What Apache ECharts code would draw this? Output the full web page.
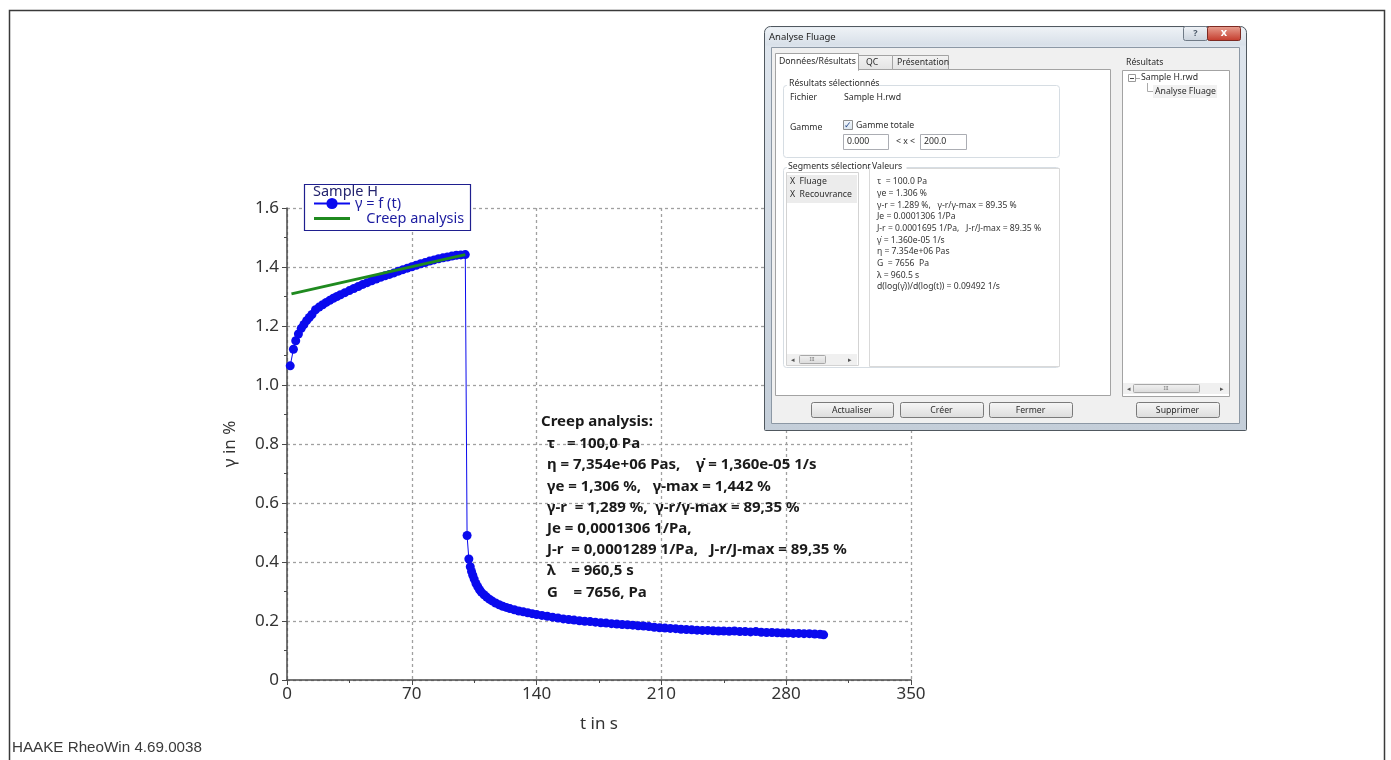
<!DOCTYPE html>
<html>
<head>
<meta charset="utf-8">
<script src="https://cdn.jsdelivr.net/npm/echarts@6/dist/echarts.min.js"></script>
<style>
  html, body { margin: 0; padding: 0; background: #ffffff; }
  #chart { width: 1391px; height: 760px; }
</style>
</head>
<body>
<div id="chart"></div>
<script>
// Creep phase: time (s) and shear strain (%)
const creepTime = [1.8, 3.6, 4.9, 6.4, 8.0, 9.5, 11, 12.5, 14, 16, 18, 20, 22, 24, 26, 28, 30, 32.5, 35, 37.5,
  40, 42.5, 45, 47.5, 50, 52.5, 55, 57.5, 60, 62.5, 65, 67.5, 70, 72.5, 75, 77.5, 80, 82.5, 85, 87.5,
  90, 92.5, 95, 97.5, 100];
const creepStrain = [1.065, 1.121, 1.150, 1.173, 1.192, 1.205, 1.218, 1.229, 1.239, 1.255, 1.264, 1.272, 1.280, 1.287, 1.294, 1.300, 1.306, 1.313, 1.320, 1.327,
  1.334, 1.341, 1.347, 1.353, 1.359, 1.365, 1.370, 1.375, 1.380, 1.386, 1.391, 1.396, 1.401, 1.406, 1.411, 1.415, 1.420, 1.424, 1.428, 1.431,
  1.434, 1.437, 1.440, 1.441, 1.442];

// Recovery phase: time (s) and shear strain (%)
const recoveryTime = [101.0, 102.0, 102.8, 103.5, 104.2, 105, 106, 107, 108, 109, 110.5, 112, 113.5, 115, 117,
  119, 121, 123, 125, 127.5, 130, 132.5, 135, 137.5, 140, 143, 146, 149, 152, 155, 158, 161, 164, 167, 170,
  173, 176, 179, 182, 185, 188, 191, 194, 197, 200, 203, 206, 209, 212, 215, 218, 221, 224, 227, 230,
  233, 236, 239, 242, 245, 248, 251, 254, 257, 260, 263, 266, 269, 272, 275, 278, 281, 284, 287, 290,
  293, 296, 299, 301];
const recoveryStrain = [0.490, 0.410, 0.384, 0.368, 0.355, 0.342, 0.327, 0.316, 0.306, 0.298, 0.289, 0.281, 0.274, 0.268, 0.261,
  0.255, 0.250, 0.246, 0.242, 0.238, 0.234, 0.231, 0.228, 0.225, 0.222, 0.219, 0.216, 0.213, 0.210, 0.207, 0.205, 0.203, 0.201, 0.199, 0.198,
  0.196, 0.194, 0.193, 0.191, 0.190, 0.188, 0.187, 0.186, 0.184, 0.183, 0.181, 0.179, 0.177, 0.176, 0.175, 0.174, 0.172, 0.171, 0.170, 0.169,
  0.168, 0.168, 0.167, 0.166, 0.166, 0.165, 0.166, 0.164, 0.164, 0.163, 0.164, 0.162, 0.161, 0.161, 0.160, 0.159, 0.159, 0.158, 0.158, 0.157,
  0.157, 0.156, 0.155, 0.153];

// Creep analysis fit line (γe = 1.306 %, γ̇ = 1.360e-05 1/s)
const fitTime = [2.5, 100];
const fitStrain = [1.309, 1.442];

// Axis ticks
const xTicks = [0, 70, 140, 210, 280, 350];
const yTicks = [0, 0.2, 0.4, 0.6, 0.8, 1.0, 1.2, 1.4, 1.6];

// Result annotation lines
const resultTitle = 'Creep analysis:';
const resultLines = [
  'τ   = 100,0 Pa',
  'η = 7,354e+06 Pas,    γ̇ = 1,360e-05 1/s',
  'γe = 1,306 %,   γ-max = 1,442 %',
  'γ-r  = 1,289 %,  γ-r/γ-max = 89,35 %',
  'Je = 0,0001306 1/Pa,',
  'J-r  = 0,0001289 1/Pa,   J-r/J-max = 89,35 %',
  'λ    = 960,5 s',
  'G    = 7656, Pa'
];

// Dialog value list
const dialogValues = [
  'τ  = 100.0 Pa',
  'γe = 1.306 %',
  'γ-r = 1.289 %,   γ-r/γ-max = 89.35 %',
  'Je = 0.0001306 1/Pa',
  'J-r = 0.0001695 1/Pa,   J-r/J-max = 89.35 %',
  'γ̇ = 1.360e-05 1/s',
  'η = 7.354e+06 Pas',
  'G  = 7656  Pa',
  'λ = 960.5 s',
  'd(log(γ̇))/d(log(t)) = 0.09492 1/s'
];
const dialogSegments = ['X  Fluage', 'X  Recouvrance'];
const dialogButtons = ['Actualiser', 'Créer', 'Fermer'];

const zip = (a, b) => a.map((v, i) => [v, b[i]]);
const measuredData = zip(creepTime, creepStrain).concat(zip(recoveryTime, recoveryStrain));
const fitData = zip(fitTime, fitStrain);

const chart = echarts.init(document.getElementById('chart'), null, { renderer: 'canvas' });

// --- helpers for the dialog drawing ---
const UI_FONT = '"Noto Sans", "DejaVu Sans", sans-serif';
function rect(x, y, w, h, fill, stroke, r, z) {
  return { type: 'rect', silent: true, z: z || 100,
    shape: { x: x, y: y, width: w, height: h, r: r || 0 },
    style: { fill: fill, stroke: stroke || null, lineWidth: 1 } };
}
function text(x, y, str, opts) {
  opts = opts || {};
  return { type: 'text', silent: true, z: opts.z || 110, x: x, y: y,
    style: { text: str, fill: opts.color || '#2b2b2b',
      font: (opts.weight || 'normal') + ' ' + (opts.size || 8.7) + 'px ' + (opts.family || UI_FONT),
      align: opts.align || 'left', verticalAlign: 'middle' } };
}
function line(x1, y1, x2, y2, stroke, z) {
  return { type: 'line', silent: true, z: z || 105,
    shape: { x1: x1, y1: y1, x2: x2, y2: y2 }, style: { stroke: stroke, lineWidth: 1 } };
}
function grad(c0, c1) {
  return new echarts.graphic.LinearGradient(0, 0, 0, 1, [{ offset: 0, color: c0 }, { offset: 1, color: c1 }]);
}
function button(x, y, w, label) {
  return [
    rect(x + 0.5, y + 0.5, w, 15, grad('#f7f7f7', '#dcdcdc'), '#7a7a7a', 2, 104),
    text(x + w / 2, y + 8.5, label, { align: 'center' })
  ];
}
function scrollbar(x, y, w, thumbX, thumbW) {
  return [
    rect(x, y, w, 11, '#f0f0f0', null, 0, 104),
    rect(thumbX + 0.5, y + 1.5, thumbW, 8, grad('#f2f2f2', '#dadada'), '#a8a8a8', 1, 105),
    text(thumbX + thumbW / 2, y + 5.5, 'III', { align: 'center', size: 5, color: '#777' }),
    text(x + 4, y + 5.5, '◂', { size: 7, color: '#555' }),
    text(x + w - 9, y + 5.5, '▸', { size: 7, color: '#555' })
  ];
}

const graphics = [];

// page frame and footer
graphics.push({ type: 'rect', silent: true, z: 1,
  shape: { x: 9.5, y: 10.5, width: 1375, height: 800 },
  style: { fill: null, stroke: '#3a3a3a', lineWidth: 1.5 } });
graphics.push(text(12, 748, 'HAAKE RheoWin 4.69.0038',
  { size: 15.2, color: '#3a3a3a', family: '"Liberation Sans", Arial, sans-serif', z: 5 }));

// legend frame with sample title (legend items drawn by the legend component on top)
graphics.push({ type: 'rect', silent: true, z: 3,
  shape: { x: 304.5, y: 184.5, width: 166, height: 46 },
  style: { fill: '#ffffff', stroke: '#1f1f8f', lineWidth: 1.2 } });
graphics.push(text(313, 192, 'Sample H', { size: 14.5, color: '#24246e', z: 12 }));

// result annotation
graphics.push(text(541, 422, resultTitle, { size: 15, weight: 'bold', color: '#1a1a1a', z: 6 }));
resultLines.forEach((s, i) => {
  graphics.push(text(547, 444 + i * 21.2, s, { size: 15, weight: 'bold', color: '#1a1a1a', z: 6 }));
});

// --- dialog window ---
graphics.push({ type: 'rect', silent: true, z: 100,
  shape: { x: 764.5, y: 26.5, width: 482, height: 404, r: [6, 6, 1, 1] },
  style: { fill: grad('#dfe6ee', '#c4ced9'), stroke: '#50585f', lineWidth: 1 } });
graphics.push({ type: 'rect', silent: true, z: 100,
  shape: { x: 765.5, y: 27.5, width: 480, height: 18, r: [5, 5, 0, 0] },
  style: { fill: grad('#eef2f6', '#d7dfe8'), stroke: null } });
graphics.push(text(769, 37, 'Analyse Fluage', { size: 9.5, color: '#1d1d1d' }));
graphics.push(rect(1183.5, 26.5, 24, 14, grad('#f1f4f8', '#c9d2dc'), '#6f7a86', 2, 102));
graphics.push(text(1195.5, 33.5, '?', { align: 'center', size: 9, weight: 'bold', color: '#4a5868' }));
graphics.push(rect(1207.5, 26.5, 33, 14, grad('#e9a293', '#c3392a'), '#7d2a22', 2, 102));
graphics.push(text(1224, 33, 'x', { align: 'center', size: 11, weight: 'bold', color: '#ffffff' }));

// client area
graphics.push(rect(771.5, 47.5, 468, 376, '#f0f0f0', '#8c98a5', 0, 101));

// tabs and tab page
graphics.push(rect(775.5, 69.5, 335, 326, '#ffffff', '#a3a3a3', 0, 102));
graphics.push(rect(858.5, 55.5, 34, 14, grad('#f3f3f3', '#e3e3e3'), '#a3a3a3', 0, 102));
graphics.push(rect(892.5, 55.5, 56, 14, grad('#f3f3f3', '#e3e3e3'), '#a3a3a3', 0, 102));
graphics.push(rect(775.5, 53.5, 83, 17, '#ffffff', '#a3a3a3', 0, 103));
graphics.push(rect(776, 69, 82, 2, '#ffffff', null, 0, 104));
graphics.push(text(779, 62, 'Données/Résultats'));
graphics.push(text(866, 63, 'QC'));
graphics.push(text(897, 63, 'Présentation'));

// "Résultats sélectionnés" group
graphics.push(rect(783.5, 85.5, 276, 72, null, '#d6dde3', 3, 103));
graphics.push(rect(787, 79, 86, 10, '#ffffff', null, 0, 104));
graphics.push(text(789, 84, 'Résultats sélectionnés'));
graphics.push(text(790, 98, 'Fichier'));
graphics.push(text(844, 98, 'Sample H.rwd'));
graphics.push(text(790, 128, 'Gamme'));
graphics.push(rect(843.5, 120.5, 9, 9, grad('#f4f8fc', '#d9e4ef'), '#8e8f8f', 0, 104));
graphics.push(text(844, 125.5, '✓', { size: 9, weight: 'bold', color: '#2a4d8c' }));
graphics.push(text(856, 126, 'Gamme totale'));
graphics.push(rect(843.5, 134.5, 45, 15, '#ffffff', '#abadb3', 0, 104));
graphics.push(text(847, 142, '0.000'));
graphics.push(text(896, 142, '< x <'));
graphics.push(rect(920.5, 134.5, 46, 15, '#ffffff', '#abadb3', 0, 104));
graphics.push(text(924, 142, '200.0'));

// "Segments sélectionnés" / "Valeurs" group
graphics.push(rect(783.5, 167.5, 276, 200, null, '#d6dde3', 3, 103));
graphics.push(rect(787, 162, 80, 10, '#ffffff', null, 0, 104));
graphics.push(text(788, 167, 'Segments sélectionné'));
graphics.push(rect(786.5, 172.5, 72, 193, '#ffffff', '#d3d3d3', 0, 104));
graphics.push(rect(787, 175, 70, 28, '#ececec', null, 0, 105));
dialogSegments.forEach((s, i) => graphics.push(text(790, 182 + i * 13, s)));
scrollbar(787, 354, 70, 799, 26).forEach(g => graphics.push(g));
graphics.push(rect(869.5, 168.5, 190, 198, '#ffffff', '#d9d9d9', 0, 104));
graphics.push(rect(870.5, 161, 36, 11, '#ffffff', null, 0, 111));
graphics.push(text(872, 167, 'Valeurs', { z: 112 }));
dialogValues.forEach((s, i) => graphics.push(text(877, 182 + i * 11.65, s, { size: 8.6, color: '#333' })));

// results tree
graphics.push(text(1126, 63, 'Résultats'));
graphics.push(rect(1122.5, 70.5, 107, 326, '#ffffff', '#a3a3a3', 0, 102));
graphics.push(rect(1128.5, 74.5, 7, 7, '#ffffff', '#9a9a9a', 0, 104));
graphics.push(line(1130, 78.5, 1134, 78.5, '#444', 105));
graphics.push(line(1136, 78.5, 1140, 78.5, '#aaa', 105));
graphics.push(text(1141, 78, 'Sample H.rwd'));
graphics.push(line(1147.5, 83, 1147.5, 91.5, '#aaa', 105));
graphics.push(line(1147.5, 91.5, 1153, 91.5, '#aaa', 105));
graphics.push(rect(1153, 85, 64, 13, '#f1f1f1', null, 0, 104));
graphics.push(text(1155, 91.5, 'Analyse Fluage'));
scrollbar(1123, 383, 106, 1133, 66).forEach(g => graphics.push(g));

// buttons
[[811, 82], [900, 83], [989, 83]].forEach((b, i) => button(b[0], 402, b[1], dialogButtons[i]).forEach(g => graphics.push(g)));
button(1136, 402, 83, 'Supprimer').forEach(g => graphics.push(g));

const AXIS_FONT = '"Noto Sans", "DejaVu Sans", sans-serif';

const option = {
  backgroundColor: '#ffffff',
  animation: false,
  grid: { left: 287, right: 480, top: 208, bottom: 80, containLabel: false },
  legend: {
    orient: 'vertical',
    left: 313, top: 196, z: 10,
    padding: 0, itemGap: 0,
    itemWidth: 36, itemHeight: 14,
    textStyle: { color: '#1c1ca0', fontSize: 14.5, fontFamily: AXIS_FONT },
    formatter: name => name === 'Creep analysis' ? '   ' + name : name,
    data: [
      { name: 'γ = f (t)' },
      { name: 'Creep analysis', icon: 'path://M0,0H36V3H0Z' }
    ]
  },
  xAxis: {
    type: 'value', min: xTicks[0], max: xTicks[xTicks.length - 1], interval: 70,
    name: 't in s', nameLocation: 'middle', nameGap: 36,
    nameTextStyle: { fontSize: 17, color: '#333', fontFamily: AXIS_FONT },
    axisLine: { onZero: false, lineStyle: { color: '#4a4a4a', width: 1.5 } },
    axisTick: { show: true, length: 5, lineStyle: { color: '#4a4a4a' } },
    minorTick: { show: true, splitNumber: 2, length: 3, lineStyle: { color: '#4a4a4a' } },
    axisLabel: { fontSize: 17, color: '#333', margin: 6, fontFamily: AXIS_FONT },
    splitLine: { show: true, lineStyle: { color: '#a0a0a0', type: [3, 3], width: 1.3 } }
  },
  yAxis: {
    type: 'value', min: yTicks[0], max: yTicks[yTicks.length - 1], interval: 0.2,
    name: 'γ in %', nameLocation: 'middle', nameGap: 48, nameRotate: 90,
    nameTextStyle: { fontSize: 17, color: '#333', fontFamily: AXIS_FONT },
    axisLine: { show: true, lineStyle: { color: '#4a4a4a', width: 1.5 } },
    axisTick: { show: true, length: 5, lineStyle: { color: '#4a4a4a' } },
    minorTick: { show: true, splitNumber: 2, length: 3, lineStyle: { color: '#4a4a4a' } },
    axisLabel: { fontSize: 17, color: '#333', margin: 8, fontFamily: AXIS_FONT,
      formatter: v => (v === 0 ? '0' : v.toFixed(1)) },
    splitLine: { show: true, lineStyle: { color: '#a0a0a0', type: [3, 3], width: 1.3 } }
  },
  series: [
    {
      name: 'γ = f (t)', type: 'line', data: measuredData,
      symbol: 'circle', symbolSize: 9, showAllSymbol: true,
      lineStyle: { color: '#0a0aee', width: 1 },
      itemStyle: { color: '#0a0aee' }, z: 3
    },
    {
      name: 'Creep analysis', type: 'line', data: fitData,
      showSymbol: false, symbol: 'none',
      lineStyle: { color: '#1f8a1f', width: 3 },
      itemStyle: { color: '#1f8a1f' }, z: 4
    }
  ],
  graphic: { elements: graphics }
};

chart.setOption(option);
</script>
</body>
</html>
